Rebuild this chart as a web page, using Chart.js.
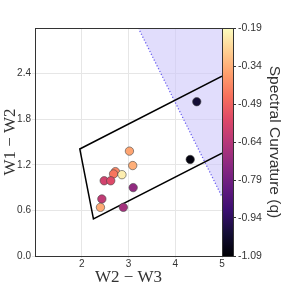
<!DOCTYPE html>
<html><head><meta charset="utf-8">
<script src="https://cdn.jsdelivr.net/npm/chart.js@4.4.0/dist/chart.umd.min.js"></script>
<style>html,body{margin:0;padding:0;background:#fff}#wrap{width:284px;height:284px}</style>
</head><body><div id="wrap"><canvas id="c" width="284" height="284"></canvas></div>
<script>
// Data
const w23 = [4.46, 4.32, 3.02, 3.09, 2.72, 2.68, 2.86, 2.48, 2.62, 3.10, 2.43, 2.40, 2.89];
const w12 = [2.03, 1.27, 1.38, 1.19, 1.11, 1.08, 1.07, 0.99, 0.99, 0.90, 0.75, 0.64, 0.64];
const qv  = [-1.00, -1.07, -0.36, -0.34, -0.42, -0.45, -0.22, -0.58, -0.55, -0.72, -0.62, -0.35, -0.68];
const wedgeX = [5.0, 1.958, 2.250, 5.0];
const wedgeY = [2.366, 1.408, 0.487, 1.353];
const shadeX = [3.21, 5.0];
const shadeY = [3.0, 0.78];
const xTicks = [2, 3, 4, 5];
const yTicks = [0.0, 0.6, 1.2, 1.8, 2.4];
const cTicks = [-1.09, -0.94, -0.79, -0.64, -0.49, -0.34, -0.19];
const qMin = -1.09, qMax = -0.19;

const magma = ['#000004','#140e36','#3b0f70','#641a80','#8c2981','#b73779','#de4968','#f7705c','#fe9f6d','#fecf92','#fcfdbf'];
function hex(h){return [parseInt(h.slice(1,3),16),parseInt(h.slice(3,5),16),parseInt(h.slice(5,7),16)];}
function cmap(t){
  t=Math.max(0,Math.min(1,t));
  const f=t*10, i=Math.min(9,Math.floor(f)), r=f-i;
  const a=hex(magma[i]), b=hex(magma[i+1]);
  return 'rgb('+a.map((v,k)=>Math.round(v+(b[k]-v)*r)).join(',')+')';
}
const pts = w23.map((x,i)=>({x:x,y:w12[i]}));
const cols = qv.map(q=>cmap((q-qMin)/(qMax-qMin)));

const colorbar = {
  id:'colorbar',
  afterDraw(chart){
    const ctx=chart.ctx, a=chart.chartArea;
    const x0=a.right, w=11;
    const g=ctx.createLinearGradient(0,a.bottom,0,a.top);
    magma.forEach((c,i)=>g.addColorStop(i/10,c));
    ctx.save();
    ctx.fillStyle=g;
    ctx.fillRect(x0,a.top,w,a.bottom-a.top);
    ctx.strokeStyle='#333';ctx.lineWidth=1;
    ctx.strokeRect(Math.round(x0)+0.5,Math.round(a.top)+0.5,w,Math.round(a.bottom-a.top));
    ctx.strokeRect(Math.round(a.left)+0.5,Math.round(a.top)+0.5,Math.round(a.right-a.left),Math.round(a.bottom-a.top));
    ctx.restore();
  }
};

new Chart(document.getElementById('c'),{
  type:'scatter',
  data:{datasets:[
    {data:pts,backgroundColor:cols,borderColor:'#444',borderWidth:0.6,pointRadius:4.2,order:1},
    {data:wedgeX.map((x,i)=>({x:x,y:wedgeY[i]})),showLine:true,borderColor:'#000',borderWidth:1.5,pointRadius:0,fill:false,order:2},
    {data:shadeX.map((x,i)=>({x:x,y:shadeY[i]})),showLine:true,borderColor:'#6a5ff0',borderWidth:1.3,borderDash:[1.2,2],pointRadius:0,fill:'end',backgroundColor:'rgba(205,198,250,0.6)',order:3}
  ]},
  options:{
    responsive:false,animation:false,
    layout:{padding:{top:28,left:0,right:0,bottom:0}},
    plugins:{legend:{display:false},tooltip:{enabled:false}},
    scales:{
      x:{type:'linear',min:1,max:5,
        afterBuildTicks(s){s.ticks=xTicks.map(v=>({value:v}));},
        afterFit(s){s.height=28;},
        grid:{color:'#e6e6e6',tickLength:2,drawTicks:true},
        border:{display:false},
        ticks:{padding:0,color:'#333',font:{family:'Liberation Sans',size:10},callback:v=>String(v)},
        title:{display:true,text:'W2 − W3',color:'#333',font:{family:'Liberation Serif',size:17},padding:{top:0,bottom:-4}}
      },
      y:{type:'linear',min:0,max:3,
        afterBuildTicks(s){s.ticks=yTicks.map(v=>({value:v}));},
        afterFit(s){s.width=35;},
        grid:{color:'#e6e6e6',tickLength:3},
        border:{display:false},
        ticks:{padding:1,color:'#333',font:{family:'Liberation Sans',size:10},callback:v=>v.toFixed(1)},
        title:{display:true,text:'W1 − W2',color:'#333',font:{family:'Liberation Serif',size:17},padding:{top:0,bottom:0}}
      },
      y2:{type:'linear',position:'right',min:qMin,max:qMax,
        afterBuildTicks(s){s.ticks=cTicks.map(v=>({value:v}));},
        afterFit(s){s.width=62;},
        grid:{drawOnChartArea:false,tickLength:14,color:'#333'},
        border:{display:false},
        ticks:{padding:2,color:'#333',font:{family:'Liberation Sans',size:10.5},callback:v=>v.toFixed(2)},
        title:{display:true,text:'Spectral Curvature (q)',color:'#333',font:{family:'Liberation Sans',size:15.5},padding:{top:0,bottom:2}}
      }
    }
  },
  plugins:[colorbar]
});
</script></body></html>
